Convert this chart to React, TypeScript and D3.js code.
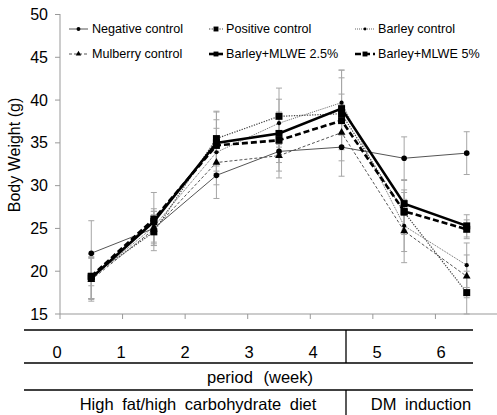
import React from "react";
import * as d3 from "d3";

const weeks = ["0", "1", "2", "3", "4", "5", "6"];
const seriesNames = [
  "Negative control",
  "Positive control",
  "Barley control",
  "Mulberry control",
  "Barley+MLWE 2.5%",
  "Barley+MLWE 5%",
];
const negative = [22.1, 25.0, 31.2, 34.0, 34.5, 33.2, 33.8];
const positive = [19.4, 24.6, 35.5, 38.1, 38.4, 26.9, 17.5];
const barley = [19.2, 25.2, 33.9, 37.3, 39.7, 25.3, 20.7];
const mulberry = [19.0, 24.9, 32.7, 33.5, 36.2, 24.7, 19.4];
const mlwe25 = [19.2, 25.8, 35.0, 36.1, 39.0, 27.9, 25.3];
const mlwe5 = [19.4, 26.1, 34.7, 35.3, 37.6, 27.0, 24.9];

const negativeSD = [3.8, 2.0, 2.7, 2.3, 3.4, 2.5, 2.5];
const positiveSD = [2.6, 1.6, 3.2, 3.3, 4.2, 2.6, 2.5];
const barleySD = [2.5, 1.8, 2.8, 2.8, 3.8, 3.0, 2.6];
const mulberrySD = [2.5, 1.7, 2.6, 2.6, 3.3, 3.7, 2.5];
const mlwe25SD = [2.4, 3.4, 3.6, 2.5, 4.5, 2.7, 1.3];
const mlwe5SD = [2.6, 1.2, 3.0, 2.6, 3.1, 2.2, 1.1];

const yTicks = [15, 20, 25, 30, 35, 40, 45, 50];
const periodLabel = "period (week)";
const phaseLabels = ["High fat/high carbohydrate diet", "DM induction"];

const W = 497;
const H = 415;
const font = "'Liberation Sans', Arial, sans-serif";

type Style = {
  stroke: string;
  width: number;
  dash: string | null;
  marker: "circle" | "square" | "dot" | "triangle";
};

const styles: Style[] = [
  { stroke: "#555", width: 1, dash: null, marker: "circle" },
  { stroke: "#444", width: 1.2, dash: "1.3,1.3", marker: "square" },
  { stroke: "#666", width: 1, dash: "1,1", marker: "dot" },
  { stroke: "#555", width: 1, dash: "3,2", marker: "triangle" },
  { stroke: "#000", width: 2.6, dash: null, marker: "square" },
  { stroke: "#000", width: 2.6, dash: "6,3", marker: "square" },
];

function Marker({
  type,
  x,
  y,
  k = 1,
}: {
  type: Style["marker"];
  x: number;
  y: number;
  k?: number;
}) {
  if (type === "circle") return <circle cx={x} cy={y} r={2.8 * k} fill="#000" />;
  if (type === "dot") return <circle cx={x} cy={y} r={2.1 * k} fill="#000" />;
  if (type === "square")
    return <rect x={x - 3.5 * k} y={y - 3.5 * k} width={7 * k} height={7 * k} fill="#000" />;
  const sym = d3.symbol().type(d3.symbolTriangle).size(26 * k * k)();
  return <path d={sym ?? ""} transform={`translate(${x},${y})`} fill="#000" />;
}

export default function App() {
  const values = [negative, positive, barley, mulberry, mlwe25, mlwe5];
  const sds = [negativeSD, positiveSD, barleySD, mulberrySD, mlwe25SD, mlwe5SD];

  const x = d3.scaleBand<string>().domain(weeks).range([60, 498]);
  const y = d3.scaleLinear().domain([15, 50]).range([314, 14.5]);
  const cx = (w: string) => (x(w) ?? 0) + x.bandwidth() / 2;

  const line = d3
    .line<number>()
    .x((_, i) => cx(weeks[i]))
    .y((d) => y(d));

  const tableX = d3.scalePoint<string>().domain(weeks).range([57, 441]);

  const legendCols = [
    { x1: 69, x2: 88, tx: 92 },
    { x1: 209, x2: 223, tx: 226 },
    { x1: 355, x2: 375, tx: 378 },
  ];
  const legendRows = [29, 54];

  return (
    <svg
      width={W}
      height={H}
      style={{ position: "absolute", left: 0, top: 0, background: "#fff" }}
      fontFamily={font}
    >
      {/* axes */}
      <line x1={60} x2={60} y1={14} y2={314} stroke="#999" />
      <line x1={60} x2={W} y1={314} y2={314} stroke="#999" />
      {yTicks.map((t) => (
        <g key={t}>
          <line x1={55} x2={60} y1={y(t)} y2={y(t)} stroke="#999" />
          <text x={48} y={y(t)} dy="0.35em" textAnchor="end" fontSize={16} fill="#000">
            {t}
          </text>
        </g>
      ))}
      {weeks.map((w) => (
        <line key={w} x1={x(w)} x2={x(w)} y1={314} y2={319} stroke="#999" />
      ))}
      <text
        transform="translate(14,155) rotate(-90)"
        textAnchor="middle"
        dy="0.35em"
        fontSize={16}
      >
        Body Weight (g)
      </text>

      {/* error bars */}
      {values.map((vals, si) =>
        vals.map((v, i) => {
          const px = cx(weeks[i]);
          const top = y(v + sds[si][i]);
          const bot = y(v - sds[si][i]);
          return (
            <g key={`e${si}-${i}`} stroke="#a6a6a6" strokeWidth={1}>
              <line x1={px} x2={px} y1={top} y2={bot} />
              <line x1={px - 3} x2={px + 3} y1={top} y2={top} />
              <line x1={px - 3} x2={px + 3} y1={bot} y2={bot} />
            </g>
          );
        })
      )}

      {/* lines */}
      {values.map((vals, si) => (
        <path
          key={`l${si}`}
          d={line(vals) ?? ""}
          fill="none"
          stroke={styles[si].stroke}
          strokeWidth={styles[si].width}
          strokeDasharray={styles[si].dash ?? undefined}
        />
      ))}
      {values.map((vals, si) =>
        vals.map((v, i) => (
          <Marker key={`m${si}-${i}`} type={styles[si].marker} x={cx(weeks[i])} y={y(v)} />
        ))
      )}

      {/* legend */}
      {seriesNames.map((name, i) => {
        const col = legendCols[i % 3];
        const ly = legendRows[Math.floor(i / 3)];
        const st = styles[i];
        return (
          <g key={name}>
            <line
              x1={col.x1}
              x2={col.x2}
              y1={ly}
              y2={ly}
              stroke={st.stroke}
              strokeWidth={st.width}
              strokeDasharray={st.dash ?? undefined}
            />
            <Marker type={st.marker} x={(col.x1 + col.x2) / 2} y={ly} k={0.7} />
            <text x={col.tx} y={ly} dy="0.35em" fontSize={12.6}>
              {name}
            </text>
          </g>
        );
      })}

      {/* table below */}
      <g stroke="#000" strokeWidth={1.3}>
        <line x1={24} x2={473} y1={330} y2={330} />
        <line x1={24} x2={473} y1={363} y2={363} />
        <line x1={24} x2={473} y1={390} y2={390} />
        <line x1={346} x2={346} y1={330} y2={363} />
        <line x1={346} x2={346} y1={390} y2={H} />
      </g>
      {weeks.map((w) => (
        <text key={`t${w}`} x={tableX(w)} y={352} dy="0.35em" textAnchor="middle" fontSize={16.5}>
          {w}
        </text>
      ))}
      <text x={260} y={377} dy="0.35em" textAnchor="middle" fontSize={16.5} wordSpacing={6}>
        {periodLabel}
      </text>
      <text x={198} y={404} dy="0.35em" textAnchor="middle" fontSize={16.5} wordSpacing={4}>
        {phaseLabels[0]}
      </text>
      <text x={421} y={404} dy="0.35em" textAnchor="middle" fontSize={16.5} wordSpacing={4}>
        {phaseLabels[1]}
      </text>
    </svg>
  );
}
